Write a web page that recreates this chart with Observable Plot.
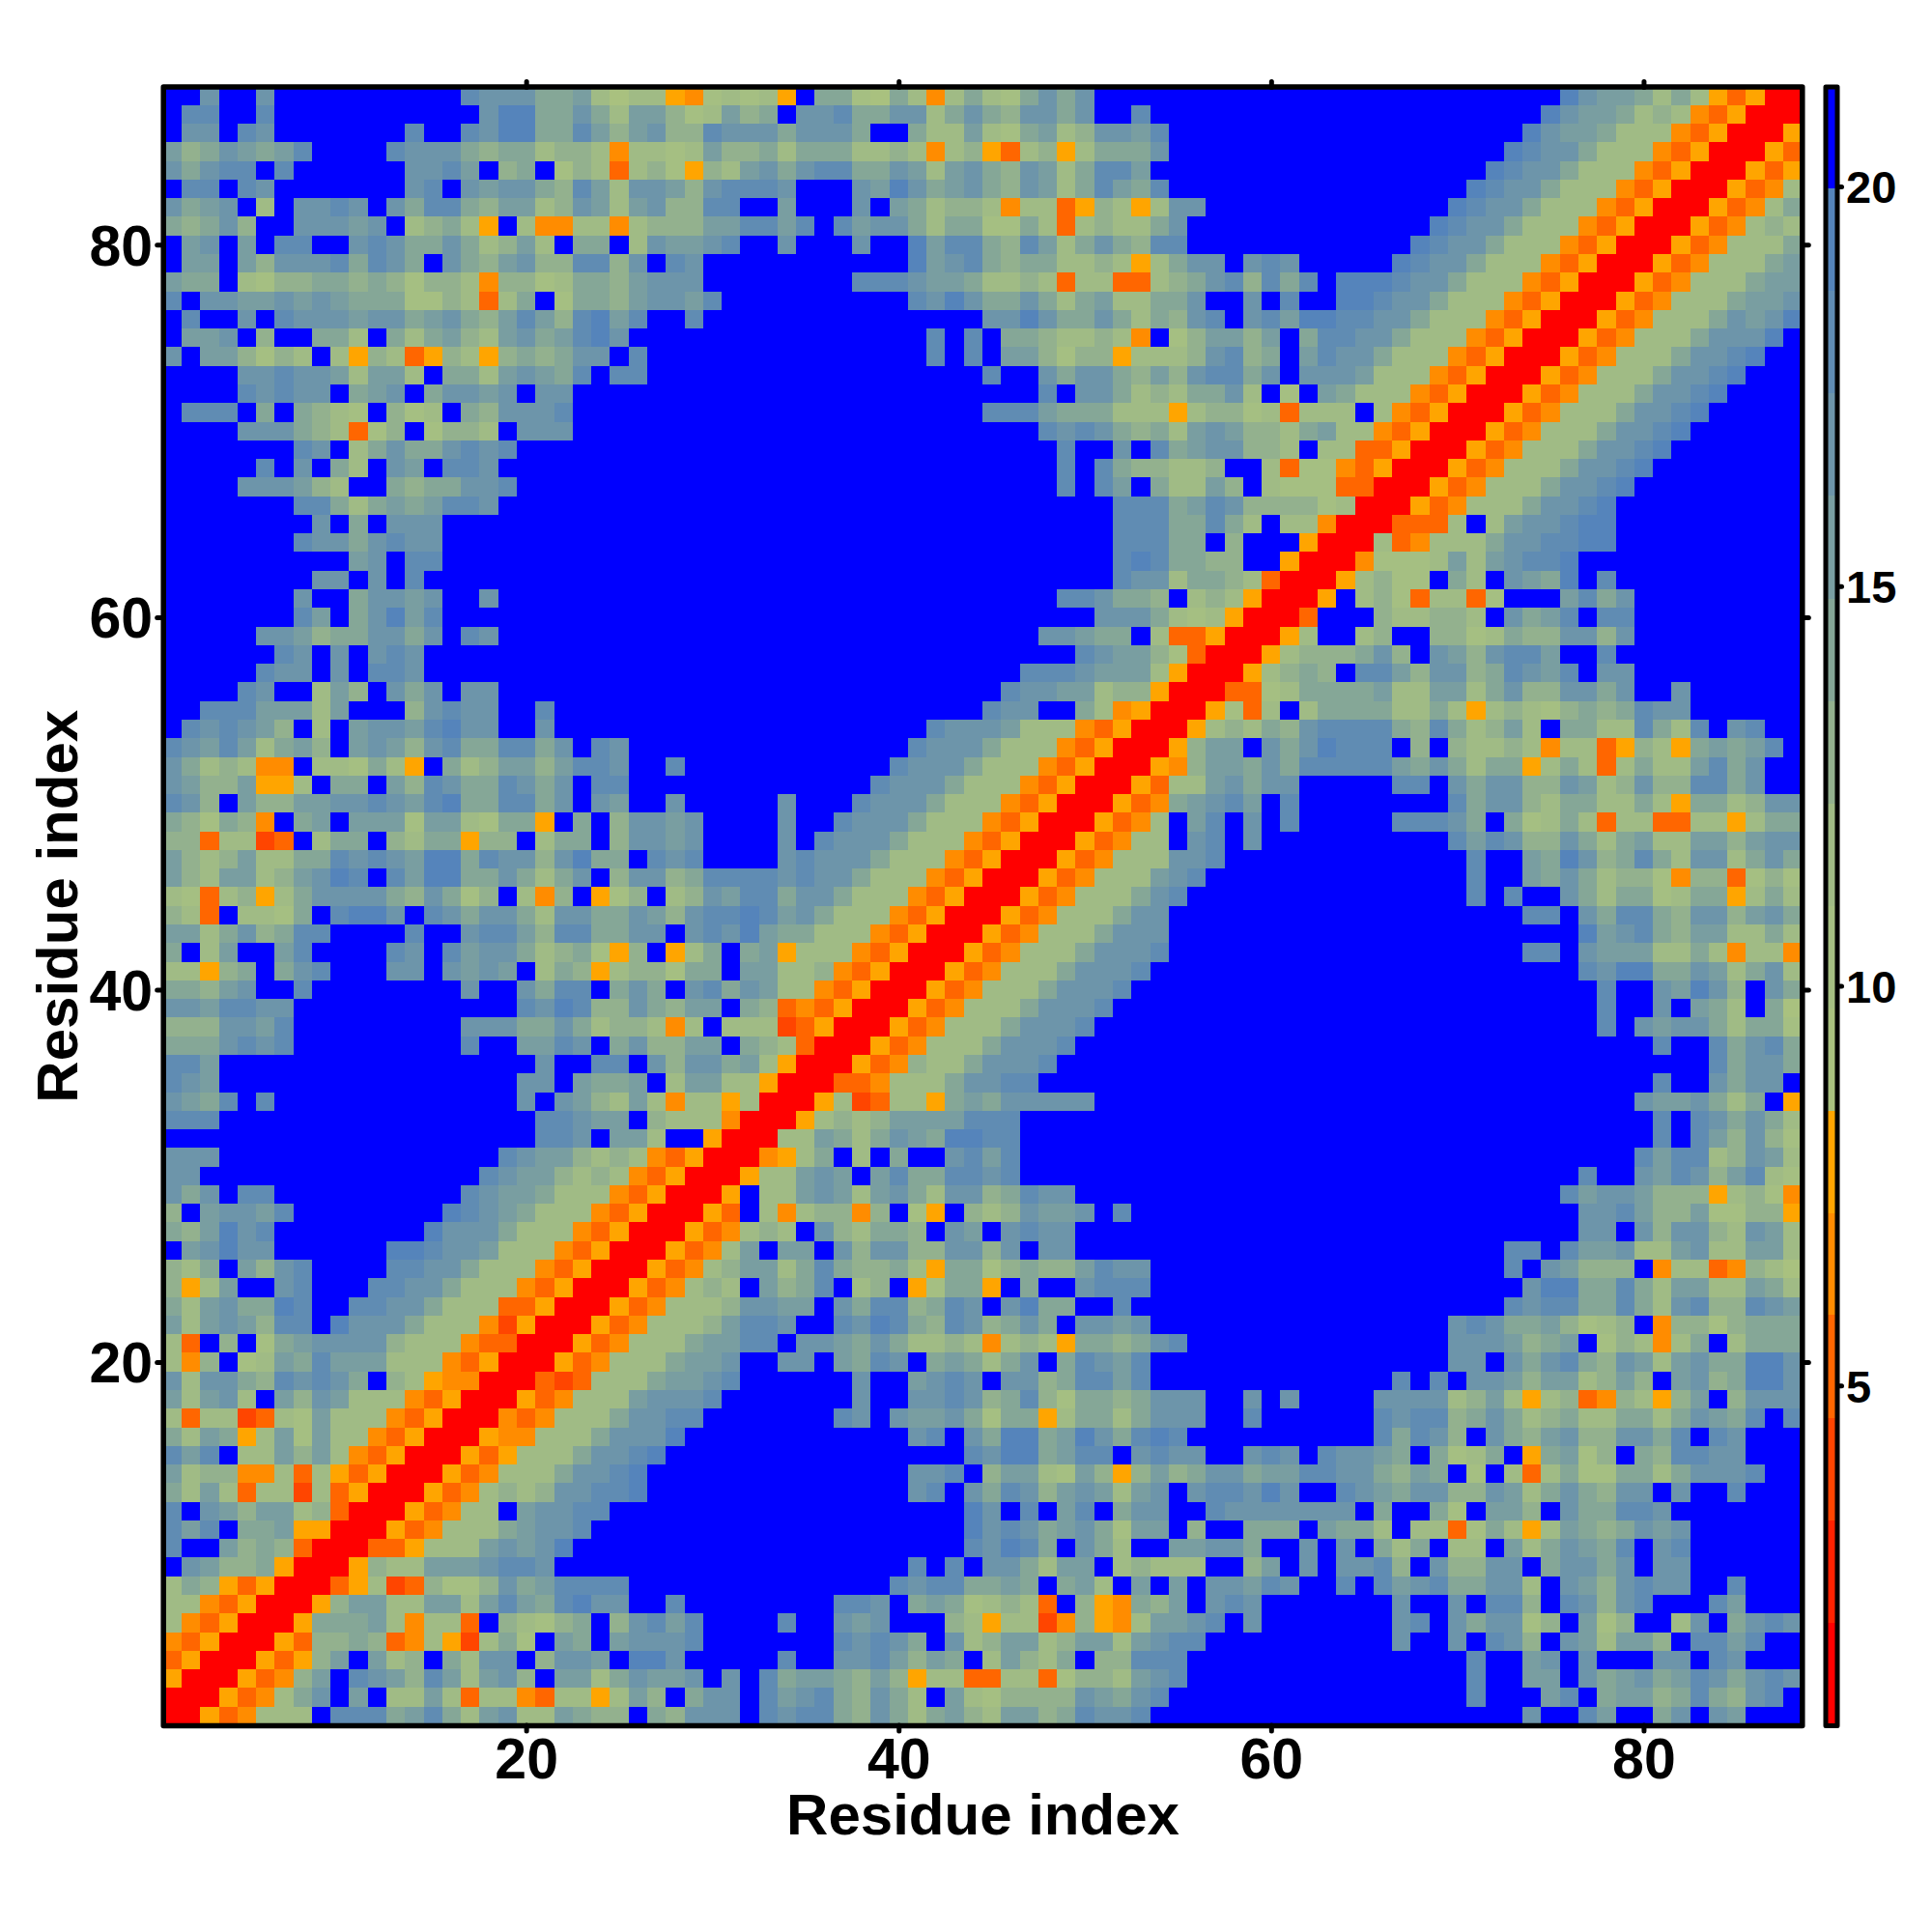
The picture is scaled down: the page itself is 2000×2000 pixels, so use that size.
<!DOCTYPE html>
<html>
<head>
<meta charset="utf-8">
<script src="https://cdn.jsdelivr.net/npm/d3@7"></script>
<script src="https://cdn.jsdelivr.net/npm/@observablehq/plot@0.6"></script>
<style>
html,body{margin:0;padding:0;background:#fff}
#chart{position:relative;width:2000px;height:2000px;background:#fff}
#chart svg{position:absolute;left:0;top:0;background:transparent}
#chart svg text{font-weight:bold}
</style>
</head>
<body>
<div id="chart"></div>
<script>
// Distance-map rows, top row (residue 88) first; each row lists residues 1..r.
// One hex digit per cell = index of the colour band (0 red ... F blue). Spaces only group by ten.
const rows = [
"FFCFFCFFFF FFFFFFDCCC AAB8688547 8785FAA76A 848A87ACAC FFFFFFFFFF FFFFFFFFFF FFFFFECBBA 8A853500",
"FDDFFDFFFF FFFFFFFCEE AACA8BB978 B9AFCCDAAC C8ACA9CCAC FFDFFFFFFF FFFFFFFFFF FFFFECBBA8 9843500",
"FCCFDCFFFF FFFDFFDCEE AADB9BC99D CCCACCCAFF A88B87AB89 CCBDFFFFFF FFFFFFFFFF FFFECBBA88 843500",
"B9ACBABDFF FFDCCCA9AA 899848878B 99A8AAA889 8489538958 AAACFFFFFF FFFFFFFFFF FFEDCCA888 43500",
"CACDDFDFFF FFFCCDBF9A F798389759 8BCACDDAAC B8BCA9CB8A DDBFFFFFFF FFFFFFFFFF FEDCCA8884 3500",
"FDDFDCFFFF FFFCDFCBCC A9DB8CCB9C DDDCFFFCBE CABCA9CB8A DBADFFFFFF FFFFFFFFFF EDCCA88843 500",
"CABCF8FCCD CFCADDA9BB 89CB8BC99D DFFBFFFCFB A899848835 9858CCFFFF FFFFFFFFFE DCCA888435 00",
"A9AC9FFCCC BCF89A85F8 448848999B BDDBDFDBCC A8AA77A838 988ACFFFFF FFFFFFFFED CCA8884350 0",
"FBCFBFDDFF CDCAACA89B 8FAAF8CBBC DFFCFFFCFF EBDDA9DB8A CA9DDFFFFF FFFFFFFEDC CA88843500",
"FBBFB9CCCD ADCAFCA9BC 99DD9CFDCF FFFFFFFFFF EBCDA9AA88 9858ACCFCD CFFFFFEDCC A88843500",
"BAAF8799AA 9A97998499 78AA9BCCCF FFFFFFFDDD CBBA889838 83389ACD9D ADFEEEDCCA 88843500",
"DFCCBBCBCB AAA779838A F7AA9BCCBD FFFFFFFFFF DCECAACA8A B88AACFFCF DFFEEDCCA8 8843500",
"FDFFCFDCCC BCCABCA9BD B9DEBDFFDF FFFFFFFFFF FFFFCCECAA CA8A9CDFCD BEEDDCCA88 843500",
"FBBCF9FFAA 8FA8AB98BC ABDECFFFFF FFFFFFFFFF FDFDFAA988 984F79BB9B FADDCCA888 43500",
"CFBB9798F8 598359859A 9ACCFDFFFF FFFFFFFFFF FDFDFBB979 958889CD9A FBDCCA8884 3500",
"FFFFCCDCCB 8BB8FAA8BC BADFDDFFFF FFFFFFFFFF FFFFDFFCAC CA9B9CDDAC FCCCB88843 500",
"FFFFDCDCCF ABCFACCBCF CCFFFFFFFF FFFFFFFFFF FFFFFFFDFC CA898AAC8F 7FBA888435 00",
"FDDDFAFA98 7F978FA9CC CDFFFFFFFF FFFFFFFFFF FFFFDDDBAA A888589978 3888F84350 0",
"FFFFCCCA98 379F7998FC CCFFFFFFFF FFFFFFFFFF FFFFFFFDCD CA9A8BCB99 8AB8843500",
"FFFFFFFDCF 8ACAACDCDF FFFFFFFFFF FFFFFFFFFF FFFFFFFFDF FCFDABCC99 8F8833500",
"FFFFFDFCFA 8FCBFDDCFF FFFFFFFFFF FFFFFFFFFF FFFFFFFFDF DA99889FF8 37743500",
"FFFFCCCB98 FFA9AACCDF FFFFFFFFFF FFFFFFFFFF FFFFFFFFDF DBFA88B9F8 7773300",
"FFFFFFFDDA 8ABABDDCFF FFFFFFFFFF FFFFFFFFFF FFFFFFFFFF FDDDABDC99 997800",
"FFFFFFFFCF AFCCCFFFFF FFFFFFFFFF FFFFFFFFFF FFFFFFFFFF FDDDAADA8F 88400",
"FFFFFFFDCC ACDCCFFFFF FFFFFFFFFF FFFFFFFFFF FFFFFFFFFF FDDDAAF9FF F500",
"FFFFFFFFFF BCFDDFFFFF FFFFFFFFFF FFFFFFFFFF FFFFFFFFFF FDEDAA99FF 500",
"FFFFFFFFCC FCFDFFFFFF FFFFFFFFFF FFFFFFFFFF FFFFFFFFFF FDCC8AA983 00",
"FFFFFFFCFF ACCBCFFCFF FFFFFFFFFF FFFFFFFFFF FFFFFFFFDD CAA9F89850 0",
"FFFFFFFDBF ACEBDFFFFF FFFFFFFFFF FFFFFFFFFF FFFFFFFFFF CCCA878500",
"FFFFFCCB9A ACCACFDCFF FFFFFFFFFF FFFFFFFFFF FFFFFFFCCB AAF833500",
"FFFFFFDCFC FCDCFFFFFF FFFFFFFFFF FFFFFFFFFF FFFFFFFFFD CBB97300",
"FFFFFDCCFC FDDCFFFFFF FFFFFFFFFF FFFFFFFFFF FFFFFFDDDC BBB8500",
"FFFFDCFF8B 9FCACFCCFF FFFFFFFFFF FFFFFFFFFF FFFFFDCCBB 899500",
"FFDDDBBB8B FFF9CDCCFF DFFFFFFFFF FFFFFFFFFF FFFFDCCFFA 84500",
"FDCDCB9F8F BCCBDECCFF CFFFFFFFFF FFFFFFFFFF FDCCCB8884 3500",
"DCBDB8AB9F BCB9CDAADD ACFDCFFFFF FFFFFFFFFF DCCCA88843 500",
"CA89844F88 7A85FA89BB 9BDDCFFDFF FFFFFFFFFD CCCA888435 00",
"CB99B558FA AFB9DCAADC ACFDDFFFFF FFFFFFFFDC CCA8884350 0",
"DC9FB99BBC CDCBDEAADD ACFCBFFCFF FFFCFFFDCC CA88843500",
"A97A94FABF BBB7BB87AA 5FAF9CCBCF FFFCFFDCCC A88843500",
"9938823F8A AF98AA599F 8AAF9CCBCF FFFCFDCCCA 88843500",
"B989B88AAD CDCBEEADCC 9CEAAFDCDF FFFCDCCCA8 8843500",
"B98BB89BCE DFDBEEAACA 8ACF9CC9AD DDDCDCCA88 843500",
"8738958ACC CCA9CA79F8 49F579F89C BDDACCA888 43500",
"983F887AFD EECFDCACCA 8CCAACB9CD DEDBCA8884 3500",
"BB8AC9ADDF FFFDFFCDDB 9DDAACCFCD CEBAA88843 500",
"AF8BFFBDFF FFDCFDBCCA 89A759F58A FAB5888435 00",
"8859AFACDF FFCCFCBCBF 8A958997AA FBB8894350 0",
"AA9BCFFDFF FFFFFFCFFC ADDFACAFCD ACB8843500",
"CCBDDCCFFF FFFFFFFFFD CED99CA9BB FA9343500",
"999CCBDFFF FFFFFFCCCA ACA899848F 88823500",
"AAACDCDFFF FFFFFFDFFB BDCFAC99BB FA98300",
"DDBFFFFFFF FFFFFFFFFF CFFDDFC9CC AB8500",
"DCBFFFFFFF FFFFFFFFFC CFBAABF8BB 88500",
"CBADFDFFFF FFFFFFFFFC FCB98B8488 5800",
"DDDFFFFFFF FFFFFFFFFF DDCBBF9888 400",
"FFFFFFFFFF FFFFFFFFFF DDCFBB8FF5 00",
"CCCFFFFFFF FFFFFFFFDC BB98984350 0",
"CCFFFFFFFF FFFFFFFDCB B989843500",
"CACFDDFFFF FFFFFFDCBB A88843500",
"9FBCCBDFFF FFFFFEDCBA 88843500",
"A9BECDFFFF FFFFECCCA8 8843500",
"FBCECCFFFF FFEEDCCB88 843500",
"98AFB9CDFF FFDDCCA888 43500",
"958BFFCDFF FDDCCA8884 3500",
"A8BCAAEDFF DDCCA88833 500",
"B8BCB9DDFE CCCA888425 00",
"83F9F7ABCC CC98884330 0",
"849F78BADB BB88843500",
"C8CCA9DCDC AF9854400",
"B8BC8FB9CB 88843500",
"83882387B8 8843500",
"A8BA58B7B8 843500",
"DBDF88B9B8 43500",
"B899448385 3500",
"A8B8388283 500",
"DFCB9BB893 00",
"DBDFAAB550 0",
"DFFB9A9300",
"FCB99A500",
"8A953500",
"8843500",
"843500",
"43500",
"3500",
"500",
"00",
"0"
];

// Colour bar: sixteen equal bands of distance.
const breaks = [0.75,2.03,3.31,4.59,5.88,7.16,8.44,9.72,11,12.28,13.56,14.84,16.13,17.41,18.69,19.97,21.25];
const bandColors = ["#ff0000","#ff2200","#ff4500","#ff6600","#ff8c00","#ffa500","#a9c17f","#a5bf82","#a0bb85","#93b18e","#85a797","#799ea1","#6d95aa","#608cb3","#5584bb","#0000ff"];
const residueTicks = [20,40,60,80];
const barTicks = [5,10,15,20];
const axisLabel = "Residue index";
const fontFamily = '"Liberation Sans", Arial, sans-serif';

const mids = bandColors.map((_, i) => (breaks[i] + breaks[i + 1]) / 2);
const colorScale = {type: "threshold", domain: breaks.slice(1, -1), range: bandColors};

const cells = [];
rows.forEach((row, i) => {
  const r = 88 - i;
  const s = row.replace(/ /g, "");
  for (let c = 1; c <= r; c++) {
    const v = mids[parseInt(s[c - 1], 16)];
    cells.push({r, c, v});
    if (c !== r) cells.push({r: c, c: r, v});
  }
});

const noText = () => "";
const tickStyle = {strokeWidth: 5, strokeLinecap: "round", label: null};

const matrix = Plot.plot({
  width: 2000, height: 2000,
  marginLeft: 168.7, marginRight: 134.7, marginTop: 89.5, marginBottom: 214,
  style: {fontFamily, background: "transparent"},
  x: {domain: [0.5, 88.5]},
  y: {domain: [0.5, 88.5]},
  color: colorScale,
  marks: [
    Plot.rect(cells, {x1: d => d.c - 0.5, x2: d => d.c + 0.5, y1: d => d.r - 0.5, y2: d => d.r + 0.5, fill: "v", shapeRendering: "crispEdges"}),
    Plot.frame({stroke: "black", strokeWidth: 5.5, strokeLinejoin: "round"}),
    Plot.axisX({anchor: "bottom", ticks: residueTicks, tickSize: 6, tickFormat: noText, ...tickStyle}),
    Plot.axisY({anchor: "left", ticks: residueTicks, tickSize: 6, tickFormat: noText, ...tickStyle}),
    Plot.axisX({anchor: "top", ticks: residueTicks, tickSize: 6, tickFormat: noText, ...tickStyle}),
    Plot.axisY({anchor: "right", ticks: residueTicks, tickSize: 6, tickFormat: noText, ...tickStyle}),
    Plot.axisX({anchor: "bottom", ticks: residueTicks, tickSize: 0, tickPadding: 13, fontSize: 59, label: null}),
    Plot.axisY({anchor: "left", ticks: residueTicks, tickSize: 0, tickPadding: 11, fontSize: 59, dy: 2, label: null}),
    Plot.text([axisLabel], {text: d => d, frameAnchor: "bottom", lineAnchor: "middle", dy: 93, fontSize: 60}),
    Plot.text([axisLabel], {text: d => d, frameAnchor: "left", textAnchor: "middle", lineAnchor: "middle", dx: -108.7, rotate: -90, fontSize: 60})
  ]
});

const bands = bandColors.map((_, i) => ({lo: breaks[i], hi: breaks[i + 1], v: mids[i]}));
const bar = Plot.plot({
  width: 2000, height: 2000,
  marginLeft: 1889.5, marginRight: 98.5, marginTop: 89.5, marginBottom: 214,
  style: {fontFamily, background: "transparent"},
  x: {domain: [0, 1], axis: null},
  y: {domain: [0.75, 21.25]},
  color: colorScale,
  marks: [
    Plot.rect(bands, {x1: () => 0, x2: () => 1, y1: "lo", y2: "hi", fill: "v", shapeRendering: "crispEdges"}),
    Plot.frame({stroke: "black", strokeWidth: 5, strokeLinejoin: "round"}),
    Plot.axisY({anchor: "right", ticks: barTicks, tickSize: 4, tickFormat: noText, ...tickStyle}),
    Plot.axisY({anchor: "right", ticks: barTicks, tickSize: 0, tickPadding: 9, fontSize: 47, dy: 2, label: null})
  ]
});

const host = document.getElementById("chart");
host.appendChild(matrix);
host.appendChild(bar);
</script>
</body>
</html>
